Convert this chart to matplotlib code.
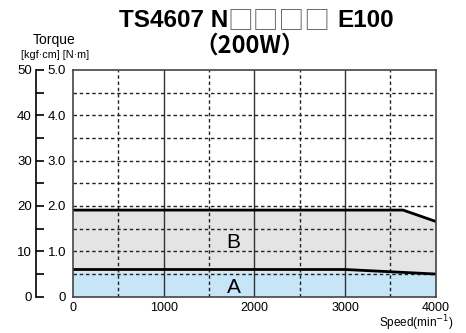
import matplotlib.pyplot as plt

plt.rcParams['font.family'] = ['Liberation Sans', 'DejaVu Sans', 'Noto Sans CJK JP']

# curve B (max torque) and curve A (rated torque), N·m vs min^-1
b_speed = [0, 3640, 4000]
b_torque = [1.91, 1.91, 1.66]
a_speed = [0, 3000, 4000]
a_torque = [0.6, 0.6, 0.5]
blue_top = 0.52

x_ticks = [0, 1000, 2000, 3000, 4000]
y_ticks = [0, 1.0, 2.0, 3.0, 4.0, 5.0]
y_labels = ['0', '1.0', '2.0', '3.0', '4.0', '5.0']
kgf_ticks = [0, 10, 20, 30, 40, 50]

fig = plt.figure(figsize=(4.66, 3.33), dpi=100)
ax = fig.add_axes([0.1567, 0.109, 0.7783, 0.681])

ax.fill_between(b_speed, b_torque, 0, color='#e4e4e4', lw=0, zorder=1)
ax.fill_between([0, 4000], [blue_top, blue_top], 0, color='#c6e6f8', lw=0, zorder=1)

for x in [1000, 2000, 3000]:
    ax.axvline(x, color='#333333', lw=1, zorder=2)
for x in [500, 1500, 2500, 3500]:
    ax.axvline(x, color='#222222', lw=1, ls=(0, (2.5, 2)), zorder=2)
for i in range(1, 10):
    ax.axhline(i * 0.5, color='#222222', lw=1, ls=(0, (2.5, 2)), zorder=2)

ax.plot(b_speed, b_torque, color='black', lw=2, zorder=3)
ax.plot(a_speed, a_torque, color='black', lw=2, zorder=3)

ax.text(1770, 1.2, 'B', fontsize=15, ha='center', va='center', zorder=4)
ax.text(1770, 0.21, 'A', fontsize=15, ha='center', va='center', zorder=4)

ax.set_xlim(0, 4000)
ax.set_ylim(0, 5.0)
ax.set_xticks(x_ticks)
ax.set_xticklabels([str(v) for v in x_ticks], fontsize=9)
ax.set_yticks(y_ticks)
ax.set_yticklabels(y_labels, fontsize=9.5)
ax.tick_params(axis='both', length=0, pad=4)
ax.tick_params(axis='y', pad=5)
for s in ax.spines.values():
    s.set_color('#444444')
    s.set_linewidth(1.2)
    s.set_zorder(5)

sec = ax.secondary_yaxis(-0.102, functions=(lambda v: v * 10, lambda v: v / 10))
sec.set_yticks(kgf_ticks)
sec.set_yticklabels([str(v) for v in kgf_ticks], fontsize=9.5)
sec.set_yticks([5, 15, 25, 35, 45], minor=True)
sec.tick_params(axis='y', which='both', direction='in', length=6, width=1.2, pad=3)
sec.spines['left'].set_linewidth(1.2)

# title in three pieces so the empty boxes come out wide
fig.text(0.489, 0.938, 'TS4607 N', fontsize=17.5, fontweight='bold',
         ha='right', va='center')
fig.text(0.489, 0.936, '□□□□', fontsize=18.5, color='#666666',
         ha='left', va='center', family=['Noto Sans CJK JP'])
fig.text(0.723, 0.938, 'E100', fontsize=17.5, fontweight='bold',
         ha='left', va='center')
fig.text(0.536, 0.862, '（200W）', fontsize=17, fontweight='bold',
         ha='center', va='center', family=['Noto Sans CJK JP', 'DejaVu Sans'])
fig.text(0.116, 0.88, 'Torque', fontsize=10, ha='center', va='center')
fig.text(0.118, 0.835, '[kgf·cm] [N·m]', fontsize=7.8, ha='center', va='center')
fig.text(0.893, 0.03, 'Speed(min$^{-1}$)', fontsize=8.5, ha='center', va='center')

fig.savefig('out.png')
